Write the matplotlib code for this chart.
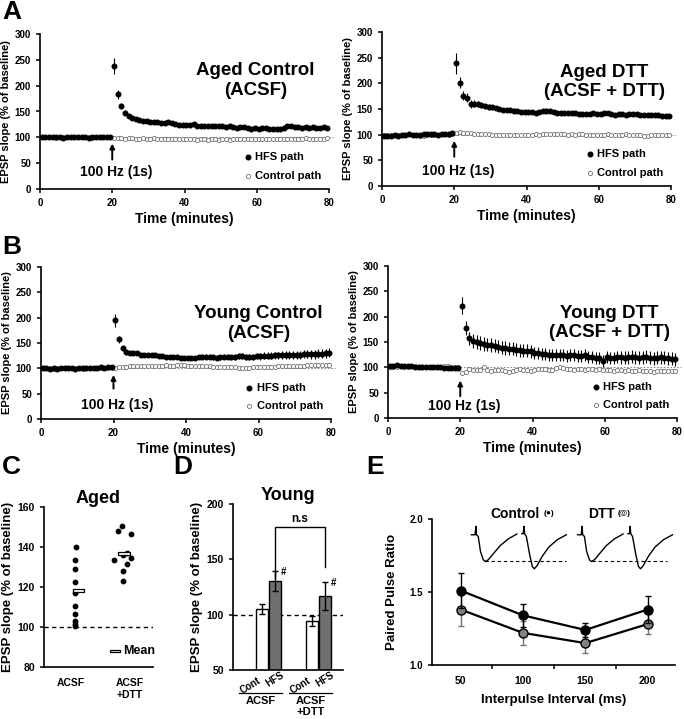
import numpy as np
import matplotlib
matplotlib.use("Agg")
import matplotlib.pyplot as plt
from matplotlib.patches import Rectangle

plt.rcParams['font.family'] = ['Liberation Sans', 'DejaVu Sans']
plt.rcParams['font.weight'] = 'bold'
plt.rcParams['axes.labelweight'] = 'bold'
plt.rcParams['axes.titleweight'] = 'bold'
plt.rcParams['axes.linewidth'] = 1.2

# ---------------- time course data (one point per minute) ----------------
time_min = np.arange(0.5, 80, 1.0)

aged_ctrl_hfs = [100, 101, 100, 100, 101, 100, 99, 100, 101, 100,
                 101, 100, 101, 99, 100, 101, 100, 101, 100, 101,
                 238, 183, 160, 148, 141, 137, 135, 134, 132, 131,
                 130, 130, 129, 128, 128, 129, 127, 126, 124, 123,
                 124, 123, 125, 122, 121, 122, 122, 121, 122, 121,
                 121, 120, 121, 120, 119, 120, 120, 118, 117, 118,
                 117, 118, 118, 117, 117, 116, 117, 119, 121, 121,
                 120, 120, 119, 120, 119, 120, 119, 119, 120, 119]
aged_ctrl_hfs_err = [2, 2, 2, 2, 2, 2, 2, 2, 2, 2, 2, 2, 2, 2, 2, 2, 2, 2, 2, 2,
                     16, 9, 6, 5, 4, 4, 3, 3, 3, 3, 3, 3, 3, 3, 3, 3, 3, 3, 3, 3,
                     3, 3, 3, 3, 3, 3, 3, 3, 3, 3, 3, 3, 3, 3, 3, 3, 3, 3, 3, 3,
                     3, 3, 3, 3, 3, 3, 3, 3, 3, 3, 3, 3, 3, 3, 3, 3, 3, 3, 3, 3]
aged_ctrl_ctl = [100, 100, 101, 100, 99, 100, 100, 101, 100, 100,
                 100, 101, 100, 100, 99, 100, 101, 100, 100, 100,
                 99, 98, 98, 97, 98, 98, 97, 97, 98, 97,
                 97, 98, 97, 97, 96, 97, 97, 96, 97, 96,
                 96, 97, 96, 95, 96, 96, 95, 96, 96, 95,
                 96, 96, 95, 96, 96, 96, 97, 96, 96, 97,
                 97, 96, 97, 97, 96, 97, 97, 97, 96, 97,
                 97, 97, 97, 98, 97, 97, 97, 97, 97, 98]

aged_dtt_hfs = [98, 97, 98, 99, 98, 99, 100, 101, 100, 99,
                100, 102, 101, 102, 101, 100, 101, 102, 101, 103,
                239, 201, 176, 172, 160, 160, 160, 157, 155, 154,
                153, 152, 150, 148, 148, 148, 147, 146, 145, 145,
                144, 144, 143, 144, 146, 147, 146, 144, 142, 143,
                143, 143, 142, 142, 141, 140, 141, 141, 142, 141,
                141, 143, 142, 141, 139, 140, 140, 139, 140, 140,
                140, 139, 139, 138, 138, 138, 138, 137, 137, 137]
aged_dtt_hfs_err = [2, 2, 2, 2, 2, 2, 2, 2, 2, 2, 2, 2, 2, 2, 2, 2, 2, 2, 2, 2,
                    20, 11, 9, 9, 8, 7, 6, 5, 5, 5, 4, 4, 4, 4, 4, 4, 4, 4, 4, 4,
                    4, 4, 4, 4, 4, 4, 4, 4, 4, 4, 3, 3, 3, 3, 3, 3, 3, 3, 3, 3,
                    3, 3, 3, 3, 3, 3, 3, 3, 3, 3, 3, 3, 3, 3, 3, 3, 3, 3, 3, 3]
aged_dtt_ctl = [100, 99, 99, 100, 99, 100, 100, 101, 100, 99,
                97, 98, 99, 100, 100, 100, 101, 101, 100, 101,
                104, 105, 104, 103, 103, 102, 102, 101, 101, 101,
                100, 100, 100, 99, 99, 99, 99, 99, 99, 100,
                100, 100, 101, 100, 101, 102, 102, 102, 101, 101,
                101, 100, 101, 100, 101, 101, 100, 99, 99, 99,
                100, 100, 101, 100, 100, 99, 100, 101, 100, 100,
                99, 99, 98, 98, 99, 99, 100, 99, 99, 100]

young_ctrl_hfs = [100, 100, 99, 100, 99, 100, 101, 101, 100, 99,
                  100, 100, 101, 100, 101, 101, 102, 101, 103, 102,
                  195, 157, 140, 132, 131, 130, 130, 126, 126, 126,
                  126, 126, 125, 124, 123, 122, 122, 122, 121, 121,
                  120, 121, 121, 122, 123, 123, 123, 122, 121, 122,
                  123, 123, 122, 122, 124, 125, 122, 123, 123, 124,
                  124, 125, 125, 125, 126, 126, 126, 126, 127, 127,
                  127, 127, 128, 128, 128, 128, 129, 129, 130, 131]
young_ctrl_hfs_err = [2, 2, 2, 2, 2, 2, 2, 2, 2, 2, 2, 2, 2, 2, 2, 2, 2, 2, 2, 2,
                      13, 7, 5, 5, 4, 4, 4, 4, 4, 4, 4, 4, 4, 4, 4, 4, 4, 4, 4, 4,
                      4, 4, 4, 4, 5, 5, 5, 5, 5, 5, 5, 5, 5, 6, 6, 6, 6, 6, 6, 6,
                      7, 7, 7, 7, 7, 7, 8, 8, 8, 8, 8, 8, 8, 8, 9, 9, 9, 9, 9, 9]
young_ctrl_ctl = [100, 100, 100, 99, 100, 100, 100, 101, 100, 100,
                  100, 99, 100, 100, 100, 101, 100, 100, 100, 100,
                  101, 102, 103, 103, 104, 104, 104, 104, 104, 105,
                  105, 105, 105, 105, 106, 105, 105, 106, 106, 106,
                  105, 105, 104, 104, 104, 104, 104, 103, 103, 103,
                  103, 103, 103, 103, 101, 100, 100, 101, 102, 102,
                  102, 102, 103, 103, 103, 104, 104, 104, 104, 105,
                  105, 105, 105, 106, 106, 106, 106, 107, 107, 106]

young_dtt_hfs = [103, 103, 104, 103, 103, 102, 102, 101, 101, 101,
                 100, 100, 100, 100, 100, 99, 99, 98, 98, 99,
                 222, 177, 157, 152, 150, 148, 146, 145, 144, 143,
                 141, 139, 138, 137, 137, 135, 134, 133, 133, 132,
                 128, 128, 127, 126, 125, 124, 124, 124, 124, 123,
                 124, 124, 123, 122, 124, 120, 120, 119, 119, 113,
                 120, 118, 119, 120, 120, 119, 120, 121, 120, 119,
                 120, 121, 119, 118, 119, 120, 119, 118, 117, 116]
young_dtt_hfs_err = [2, 2, 2, 2, 2, 2, 2, 2, 2, 2, 2, 2, 2, 2, 2, 2, 2, 2, 2, 3,
                     17, 14, 12, 13, 14, 14, 14, 13, 13, 13, 13, 13, 13, 13, 13, 13, 13, 13, 13, 13,
                     12, 12, 12, 12, 12, 12, 12, 12, 12, 12, 12, 12, 12, 12, 12, 12, 12, 12, 12, 12,
                     12, 12, 12, 12, 13, 13, 13, 13, 13, 13, 13, 13, 13, 13, 13, 13, 13, 13, 13, 13]
young_dtt_ctl = [101, 101, 101, 102, 101, 101, 102, 103, 101, 100,
                 100, 101, 101, 100, 101, 102, 103, 101, 100, 100,
                 89, 90, 96, 95, 94, 94, 100, 95, 93, 94,
                 95, 94, 93, 91, 92, 94, 96, 95, 94, 93,
                 95, 96, 97, 96, 95, 94, 98, 100, 99, 97,
                 96, 95, 96, 96, 95, 97, 96, 95, 96, 94,
                 94, 95, 93, 94, 95, 93, 94, 93, 92, 94,
                 93, 92, 93, 91, 92, 93, 92, 93, 92, 93]

# ---------------- panel C ----------------
aged_acsf = [140, 133.5, 129, 122.5, 117, 110.5, 106.5, 103, 101.5, 100.5]
aged_dtt = [150.5, 148, 146.5, 137, 136, 134.5, 133.5, 131.5, 128, 123]
aged_means = [118.2, 136.6]
acsf_jitter = [0.0, -0.02, -0.02, -0.02, -0.02, -0.02, -0.02, -0.02, -0.02, -0.02]
dtt_jitter = [-0.02, -0.1, 0.17, 0.08, 0.0, 0.17, -0.18, 0.08, 0.0, 0.0]

# ---------------- panel D ----------------
young_groups = ['ACSF', 'ACSF\n+DTT']
young_cont = [105.5, 94.0]
young_cont_err = [4.5, 4.5]
young_hfs = [130.5, 117.0]
young_hfs_err = [9.0, 12.5]

# ---------------- panel E ----------------
ipi_ms = [50, 100, 150, 200]
ppr_control = [1.51, 1.34, 1.24, 1.38]
ppr_control_err = [0.12, 0.08, 0.05, 0.09]
ppr_dtt = [1.38, 1.22, 1.15, 1.28]
ppr_dtt_err = [0.11, 0.08, 0.07, 0.07]

# example EPSP traces (x in ms-axis units from trace start, y in ratio units)
trace1_x = [0, 3.0, 3.6, 4.1, 5.5, 7.3, 9.5, 11.1, 13.6, 17.6, 23.0, 29.8, 36.5]
trace1_y = [1.892, 1.892, 1.950, 1.892, 1.881, 1.778, 1.721, 1.709, 1.721, 1.762, 1.817, 1.865, 1.897]
trace2_x = [40.5, 41.6, 42.2, 42.7, 44.1, 46.8, 48.9, 50.5, 52.7, 56.8, 62.2, 68.9, 76.2]
trace2_y = [1.899, 1.899, 1.950, 1.899, 1.881, 1.755, 1.675, 1.659, 1.680, 1.744, 1.808, 1.858, 1.892]


def style_axes(ax):
    ax.spines['top'].set_visible(False)
    ax.spines['right'].set_visible(False)
    ax.tick_params(direction='out', length=3, width=1.1)


def plot_timecourse(ax, hfs, hfs_err, ctl, title, arrow_y, hz_y, title_x, title_y):
    ax.plot([20, 81], [100, 100], ls=(0, (2, 2)), color='0.45', lw=0.6, clip_on=False)
    ax.plot(time_min, ctl, 'o', ms=3.0, mfc='white', mec='0.45', mew=0.6, clip_on=False)
    ax.errorbar(time_min, hfs, yerr=hfs_err, fmt='o', ms=3.3, color='black',
                elinewidth=0.8, capsize=0, clip_on=False)
    ax.set_xlim(0, 80)
    ax.set_ylim(0, 300)
    ax.set_xticks([0, 20, 40, 60, 80])
    ax.set_yticks(range(0, 301, 50))
    style_axes(ax)
    ax.tick_params(labelsize=7)
    ax.set_xlabel('Time (minutes)', fontsize=10, labelpad=3)
    ax.set_ylabel('EPSP slope (% of baseline)', fontsize=8, labelpad=3)
    ax.text(title_x, title_y, title, transform=ax.transAxes, ha='center', va='center',
            fontsize=13.5, linespacing=1.2)
    ax.annotate('', xy=(20, arrow_y[1]), xytext=(20, arrow_y[0]),
                arrowprops=dict(arrowstyle='-|>', lw=1.4, color='black', mutation_scale=7,
                                shrinkA=0, shrinkB=0))
    ax.text(21, hz_y, '100 Hz (1s)', ha='center', va='center', fontsize=10)
    ax.plot([57.5], [62], 'o', ms=3.3, color='black')
    ax.text(59.5, 62, 'HFS path', va='center', fontsize=8)
    ax.plot([57.5], [25], 'o', ms=3.0, mfc='white', mec='0.45', mew=0.6)
    ax.text(59.5, 25, 'Control path', va='center', fontsize=8)


W, H = 684, 719
fig = plt.figure(figsize=(W / 100, H / 100), dpi=100)


def px_axes(left, top, right, bottom):
    return fig.add_axes([left / W, 1 - bottom / H, (right - left) / W, (bottom - top) / H])


ax_a1 = px_axes(40, 34, 329, 189)
ax_a2 = px_axes(382, 32, 671, 186)
ax_b1 = px_axes(41, 267, 331, 419)
ax_b2 = px_axes(388, 266, 677, 418)

plot_timecourse(ax_a1, aged_ctrl_hfs, aged_ctrl_hfs_err, aged_ctrl_ctl,
                'Aged Control\n(ACSF)', (57, 88), 33, 0.745, 0.70)
plot_timecourse(ax_a2, aged_dtt_hfs, aged_dtt_hfs_err, aged_dtt_ctl,
                'Aged DTT\n(ACSF + DTT)', (57, 88), 30, 0.77, 0.675)
plot_timecourse(ax_b1, young_ctrl_hfs, young_ctrl_hfs_err, young_ctrl_ctl,
                'Young Control\n(ACSF)', (60, 87), 27, 0.75, 0.63)
plot_timecourse(ax_b2, young_dtt_hfs, young_dtt_hfs_err, young_dtt_ctl,
                'Young DTT\n(ACSF + DTT)', (43, 74), 23, 0.765, 0.625)

# ---------------- C ----------------
ax_c = px_axes(44, 507, 153, 667)
ax_c.axhline(100, ls=(0, (3, 2.5)), color='black', lw=1.0)
ax_c.scatter(1 + np.array(acsf_jitter), aged_acsf, s=10, color='black', zorder=3)
ax_c.scatter(2 + np.array(dtt_jitter), aged_dtt, s=10, color='black', zorder=3)
for xpos, m in zip([1.05, 2.02], aged_means):
    ax_c.add_patch(Rectangle((xpos - 0.12, m - 0.7), 0.24, 1.4, facecolor='white',
                             edgecolor='black', lw=0.9, zorder=4))
ax_c.add_patch(Rectangle((1.72, 87.3), 0.22, 1.4, facecolor='white', edgecolor='black', lw=0.9))
ax_c.text(2.0, 88, 'Mean', va='center', fontsize=9)
ax_c.set_xlim(0.32, 2.64)
ax_c.set_ylim(80, 160)
ax_c.set_yticks([80, 100, 120, 140, 160])
style_axes(ax_c)
ax_c.set_xticks([0.9, 2.15])
ax_c.set_xticklabels(['ACSF', 'ACSF\n+DTT'], fontsize=7.5)
ax_c.tick_params(axis='x', length=0, pad=8)
ax_c.tick_params(axis='y', labelsize=7.5)
ax_c.set_ylabel('EPSP slope (% of baseline)', fontsize=9.5, labelpad=3)
ax_c.set_title('Aged', fontsize=13, pad=2)

# ---------------- D ----------------
ax_d = px_axes(233, 504, 343, 670)
gx = np.arange(len(young_groups))
ax_d.axhline(100, ls=(0, (3, 2.5)), color='black', lw=1.0, zorder=0)
ax_d.bar(gx - 0.13, young_cont, 0.25, yerr=young_cont_err, color='white', edgecolor='black',
         lw=1.0, capsize=2, error_kw=dict(elinewidth=1, capthick=1), zorder=2)
ax_d.bar(gx + 0.13, young_hfs, 0.25, yerr=young_hfs_err, color='#707070', edgecolor='black',
         lw=1.0, capsize=2, error_kw=dict(elinewidth=1, capthick=1), zorder=2)
for g in gx:
    ax_d.text(g + 0.3, young_hfs[g] + young_hfs_err[g] - 1, '#', fontsize=7, ha='center', va='center')
ax_d.plot([0.13, 0.13, 1.13, 1.13], [133, 179.5, 179.5, 143], color='black', lw=1.0)
ax_d.text(0.63, 186, 'n.s', ha='center', va='center', fontsize=8.5)
ax_d.set_xlim(-0.71, 1.49)
ax_d.set_ylim(50, 200)
ax_d.set_yticks([50, 100, 150, 200])
style_axes(ax_d)
ax_d.set_xticks([])
ax_d.tick_params(axis='y', labelsize=7.5)
ax_d.set_ylabel('EPSP slope (% of baseline)', fontsize=9.5, labelpad=3)
ax_d.set_title('Young', fontsize=13, pad=2)
for g in gx:
    ax_d.text(g - 0.37, 35.5, 'Cont', rotation=32, ha='center', va='center', fontsize=7,
              clip_on=False)
    ax_d.text(g + 0.13, 41.5, 'HFS', rotation=32, ha='center', va='center', fontsize=7,
              clip_on=False)
    ax_d.plot([g - 0.6, g + 0.26], [29.0, 29.0], color='black', lw=0.9, clip_on=False)
    ax_d.text(g - 0.15, 26.5, young_groups[g], ha='center', va='top', fontsize=8,
              linespacing=1.15)

# ---------------- E ----------------
ax_e = px_axes(432, 519, 675, 665)
ax_e.errorbar(ipi_ms, ppr_control, yerr=ppr_control_err, fmt='-o', color='black', ms=6.5,
              mfc='black', mec='black', lw=1.6, elinewidth=1.0, capsize=2, zorder=3)
ax_e.errorbar(ipi_ms, ppr_dtt, yerr=ppr_dtt_err, fmt='-o', color='black', ecolor='0.45', ms=6.5,
              mfc='#808080', mec='black', lw=1.6, elinewidth=1.0, capsize=2, zorder=2)
for x0, dash_x in [(58.6, (69.5, 134.3)), (143.8, (155.0, 215.4))]:
    ax_e.plot(x0 + np.array(trace1_x), trace1_y, color='black', lw=1.0)
    ax_e.plot(x0 + np.array(trace2_x), trace2_y, color='black', lw=1.0)
    ax_e.plot(dash_x, [1.709, 1.709], ls=(0, (3, 2.5)), color='black', lw=0.8)
ax_e.text(94, 2.035, 'Control', ha='center', va='center', fontsize=10)
ax_e.text(121, 2.035, '(\u25CF)', ha='center', va='center', fontsize=6)
ax_e.text(163, 2.035, 'DTT', ha='center', va='center', fontsize=10)
ax_e.text(181, 2.035, '(\u25CE)', ha='center', va='center', fontsize=6)
ax_e.set_xlim(27, 222)
ax_e.set_ylim(1.0, 2.0)
ax_e.set_yticks([1.0, 1.5, 2.0])
ax_e.set_yticklabels(['1.0', '1.5', '2.0'])
ax_e.set_xticks(ipi_ms)
ax_e.set_xticks([75, 125, 175], minor=True)
style_axes(ax_e)
ax_e.tick_params(axis='x', which='major', length=0, pad=8, labelsize=7.5)
ax_e.tick_params(axis='x', which='minor', length=3, width=1.1)
ax_e.tick_params(axis='y', labelsize=7)
ax_e.set_xlabel('Interpulse Interval (ms)', fontsize=9.5, labelpad=6)
ax_e.set_ylabel('Paired Pulse Ratio', fontsize=9.5, labelpad=8)

# ---------------- panel letters ----------------
for letter, lx, ly in [('A', 2, 0), ('B', 2, 235), ('C', 2, 455), ('D', 173, 455), ('E', 366, 455)]:
    fig.text(lx / W, 1 - ly / H, letter, fontsize=19, va='top', ha='left')

fig.savefig('out.png', dpi=100)
